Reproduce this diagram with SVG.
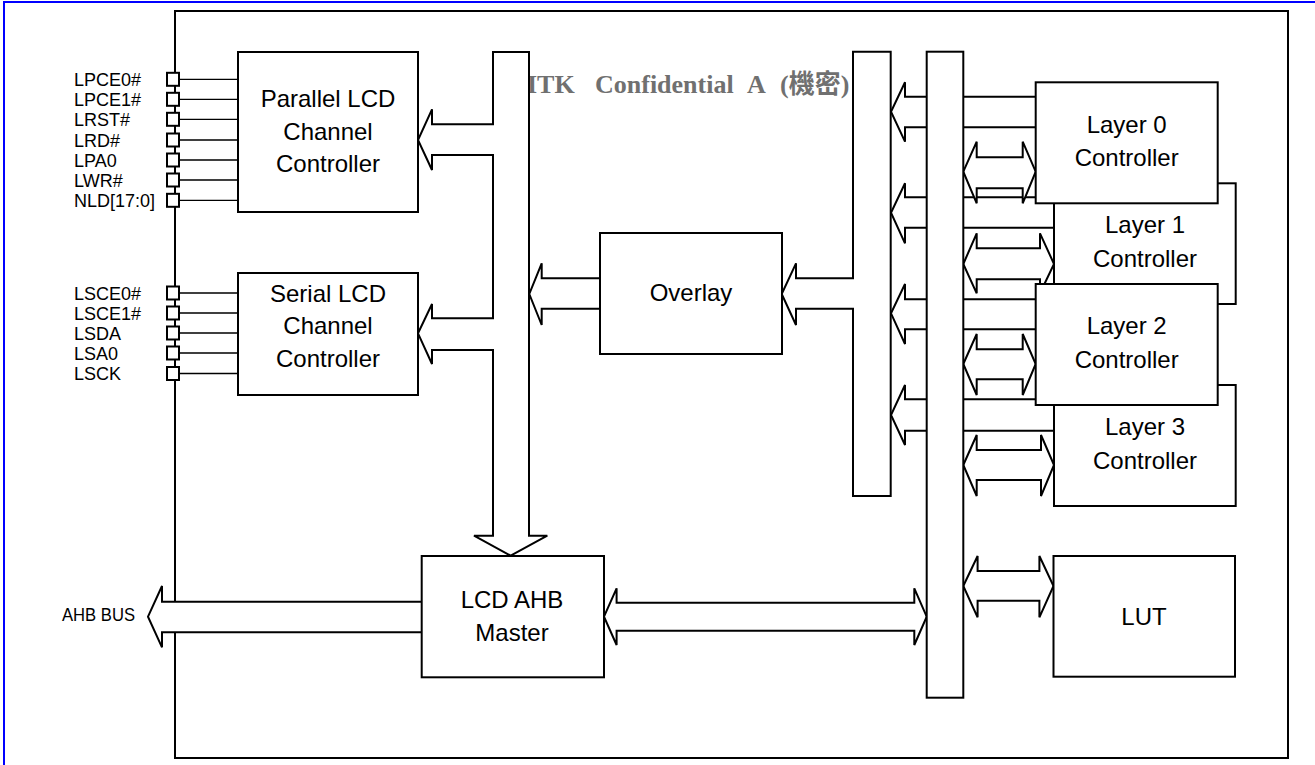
<svg xmlns="http://www.w3.org/2000/svg" width="1315" height="765" viewBox="0 0 1315 765">
<style>
.ln{fill:#fff;stroke:#000;stroke-width:2;stroke-linejoin:miter}
.pin{fill:#fff;stroke:#000;stroke-width:2}
.wire{fill:none;stroke:#000;stroke-width:1.3}
.t{font-family:"Liberation Sans",Arial,sans-serif;font-size:24px;fill:#000;text-anchor:middle}
.pl{font-family:"Liberation Sans",Arial,sans-serif;font-size:18px;fill:#000}
.wm{font-family:"Liberation Serif","Noto Sans CJK TC",serif;font-size:26px;font-weight:bold;fill:#707070}
</style>
<defs>
<clipPath id="nldclip"><rect x="0" y="180" width="156" height="40"/></clipPath>
</defs>
<rect x="0" y="0" width="1315" height="765" fill="#fff"/>
<line x1="3" y1="2" x2="1315" y2="2" stroke="#0000ff" stroke-width="2"/>
<line x1="4" y1="1" x2="4" y2="765" stroke="#0000ff" stroke-width="2"/>
<g id="frame">
<rect class="ln" x="175" y="11" width="1113" height="747"/>
</g>
<text class="wm" y="93"><tspan x="527">ITK</tspan><tspan x="595">Confidential</tspan><tspan x="747">A</tspan><tspan x="780">(機密)</tspan></text>
<g id="connectors">
<path class="wire" d="M179 79.3H238M179 99.3H238M179 119.3H238M179 140H238M179 160H238M179 180H238M179 200.3H238"/>
<path class="wire" d="M179 293H238M179 313H238M179 333H238M179 353H238M179 373.5H238"/>
<path class="ln" d="M1035.7 96.7H905V82.3L891 111.7L905 141.7V127.3H1035.7"/>
<path class="ln" d="M1054 197.3H905V183.3L891 212.7L905 243.3V227.7H1054"/>
<path class="ln" d="M1035.7 299.3H905V284L891 313.3L905 344V329.3H1035.7"/>
<path class="ln" d="M1054 399.3H905V385L891 415L905 445V430.7H1054"/>
<path class="ln" d="M963.3 171.7L976.7 141.7V157.3H1022.7V141.7L1035.7 171.7L1022.7 203.3V188.3H976.7V203.3Z"/>
<path class="ln" d="M963.3 264L976.7 233.3V248.3H1040V233.3L1054 264L1040 293.3V279.3H976.7V293.3Z"/>
<path class="ln" d="M963.3 364L976.7 334V349.3H1022.7V334L1035.7 364L1022.7 395V379.3H976.7V395Z"/>
<path class="ln" d="M963.3 465L976.7 435V450H1041V435L1054 465L1041 496V480H976.7V496Z"/>
<path class="ln" d="M963.3 586L977.6 556V571H1039.4V556L1053.5 586L1039.4 617.3V600.7H977.6V617.3Z"/>
<path class="ln" d="M604 616.7L616.6 588.3V602.7H914.3V588.3L926.7 616.7L914.3 645V630.7H616.6V645Z"/>
<path class="ln" d="M600 278.3H541.7V263.3L529.3 294L541.7 325V308.7H600"/>
<path class="ln" d="M421.7 601.7H162V586L148 616.7L162 647.3V632.3H421.7"/>
</g>
<g id="pins-parallel">
<rect class="pin" x="167" y="72.8" width="12" height="13"/>
<rect class="pin" x="167" y="92.8" width="12" height="13"/>
<rect class="pin" x="167" y="112.8" width="12" height="13"/>
<rect class="pin" x="167" y="133.5" width="12" height="13"/>
<rect class="pin" x="167" y="153.5" width="12" height="13"/>
<rect class="pin" x="167" y="173.5" width="12" height="13"/>
<rect class="pin" x="167" y="193.8" width="12" height="13"/>
<text class="pl" x="74" y="86">LPCE0#</text>
<text class="pl" x="74" y="106">LPCE1#</text>
<text class="pl" x="74" y="126">LRST#</text>
<text class="pl" x="74" y="146.5">LRD#</text>
<text class="pl" x="74" y="166.5">LPA0</text>
<text class="pl" x="74" y="186.5">LWR#</text>
<text class="pl" x="74" y="207" clip-path="url(#nldclip)">NLD[17:0]</text>
</g>
<g id="pins-serial">
<rect class="pin" x="167" y="286.5" width="12" height="13"/>
<rect class="pin" x="167" y="306.5" width="12" height="13"/>
<rect class="pin" x="167" y="326.5" width="12" height="13"/>
<rect class="pin" x="167" y="346.5" width="12" height="13"/>
<rect class="pin" x="167" y="367" width="12" height="13"/>
<text class="pl" x="74" y="299.5">LSCE0#</text>
<text class="pl" x="74" y="319.5">LSCE1#</text>
<text class="pl" x="74" y="339.5">LSDA</text>
<text class="pl" x="74" y="359.5">LSA0</text>
<text class="pl" x="74" y="380">LSCK</text>
</g>
<g id="left-bus">
<path class="ln" d="M493 52H529V535.7H547.3L510.7 555.7L474 535.7H493V350H432V364L418 333.3L432 304V318.3H493V155H432V170L418 140L432 109.3V124.3H493Z"/>
</g>
<g id="overlay-bus">
<path class="ln" d="M853 51.7H890.7V496H853V308.7H796V325L781.7 294L796 263.3V278.3H853Z"/>
</g>
<g id="ahb-bus">
<rect class="ln" x="926.7" y="51.7" width="36.6" height="646"/>
</g>
<g id="parallel-lcd">
<rect class="ln" x="238" y="52" width="180" height="160"/>
<text class="t" x="328" y="107">Parallel LCD</text>
<text class="t" x="328" y="140">Channel</text>
<text class="t" x="328" y="172">Controller</text>
</g>
<g id="serial-lcd">
<rect class="ln" x="238" y="273" width="180" height="122"/>
<text class="t" x="328" y="302">Serial LCD</text>
<text class="t" x="328" y="334">Channel</text>
<text class="t" x="328" y="367">Controller</text>
</g>
<g id="overlay">
<rect class="ln" x="600" y="233" width="182" height="121"/>
<text class="t" x="691" y="301">Overlay</text>
</g>
<g id="lcd-ahb-master">
<rect class="ln" x="421.7" y="556" width="182.3" height="121.3"/>
<text class="t" x="512" y="608">LCD AHB</text>
<text class="t" x="512" y="641">Master</text>
</g>
<g id="ahb-bus-label">
<text class="pl" x="62" y="621" font-size="16" textLength="73" lengthAdjust="spacingAndGlyphs">AHB BUS</text>
</g>
<g id="layer1">
<rect class="ln" x="1054" y="183.3" width="181.7" height="120.7"/>
<text class="t" x="1145" y="233.3">Layer 1</text>
<text class="t" x="1145" y="266.7">Controller</text>
</g>
<g id="layer3">
<rect class="ln" x="1054" y="385" width="181.7" height="121"/>
<text class="t" x="1145" y="435">Layer 3</text>
<text class="t" x="1145" y="468.5">Controller</text>
</g>
<g id="layer0">
<rect class="ln" x="1035.7" y="82.3" width="182" height="121"/>
<text class="t" x="1126.7" y="133">Layer 0</text>
<text class="t" x="1126.7" y="166">Controller</text>
</g>
<g id="layer2">
<rect class="ln" x="1035.7" y="284" width="182" height="121"/>
<text class="t" x="1126.7" y="334">Layer 2</text>
<text class="t" x="1126.7" y="367.5">Controller</text>
</g>
<g id="lut">
<rect class="ln" x="1053.5" y="556" width="181.5" height="120.7"/>
<text class="t" x="1144" y="625">LUT</text>
</g>
</svg>
